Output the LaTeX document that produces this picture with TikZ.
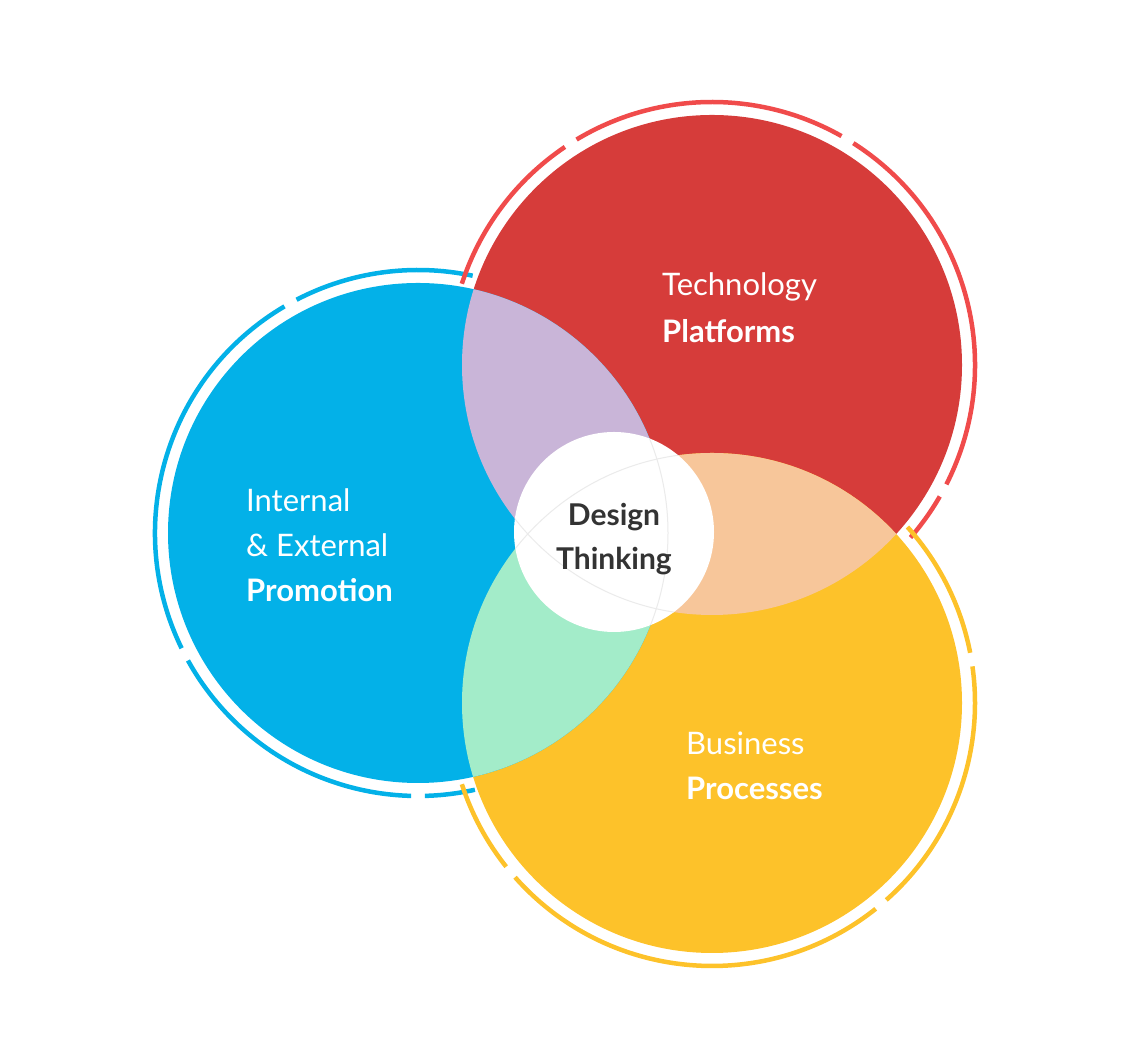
\documentclass[tikz,border=0pt]{standalone}
\usepackage{fontspec}
\setmainfont{Lato}
\definecolor{cblue}{HTML}{03B1E8}
\definecolor{cred}{HTML}{D63C3A}
\definecolor{rred}{HTML}{F04B4B}
\definecolor{cyel}{HTML}{FDC22A}
\definecolor{clav}{HTML}{C9B5D8}
\definecolor{cmint}{HTML}{A3ECC9}
\definecolor{cpeach}{HTML}{F7C69A}
\definecolor{cdark}{HTML}{333333}
\begin{document}
\begin{tikzpicture}[x=1pt,y=1pt,
  ring/.style={line width=4.5pt},
  lbl/.style={anchor=west,text=white,font=\fontsize{31}{36}\selectfont,align=left,inner sep=0pt},
  ctr/.style={text=cdark,font=\fontsize{30}{36}\selectfont\bfseries,align=center,inner sep=0pt}]
\useasboundingbox (0,0) rectangle (1125,1059);
\coordinate (B) at (418,526);
\coordinate (R) at (712,694);
\coordinate (Y) at (712,356);
\coordinate (W) at (614,527);
\fill[cred] (R) circle (250);
\fill[cyel] (Y) circle (250);
\fill[cblue] (B) circle (250);
\begin{scope}\clip (B) circle (250); \fill[clav] (R) circle (250);\end{scope}
\begin{scope}\clip (B) circle (250); \fill[cmint] (Y) circle (250);\end{scope}
\begin{scope}\clip (R) circle (250); \fill[cpeach] (Y) circle (250);\end{scope}
\fill[white] (W) circle (100);
\begin{scope}\clip (W) circle (100);
\draw[black!8,line width=1pt] (B) circle (250) (R) circle (250) (Y) circle (250);
\end{scope}
% rings
\foreach \a/\b in {78/117.5,120.5/206,209/268.5,271.5/282.5}
  \draw[ring,cblue] (B) ++(\a:263) arc (\a:\b:263);
\foreach \a/\b in {162/124,121/60.5,57.5/-27,-30/-41}
  \draw[ring,rred] (R) ++(\a:263) arc (\a:\b:263);
\foreach \a/\b in {42/11,8/-48.5,-51.5/-138.5,-141.5/-162}
  \draw[ring,cyel] (Y) ++(\a:263) arc (\a:\b:263);
\node[lbl] (t1) at (662,772) {Technology};
\node[lbl,font=\fontsize{31}{36}\selectfont\bfseries] (t2) at (662,728) {Platforms};
\node[lbl] (b1) at (246,559) {Internal};
\node[lbl] (b2) at (246,514) {\& External};
\node[lbl,font=\fontsize{31}{36}\selectfont\bfseries] (b3) at (246,469) {Promotion};
\node[lbl] (y1) at (686,316) {Business};
\node[lbl,font=\fontsize{31}{36}\selectfont\bfseries] (y2) at (686,271) {Processes};
\node[ctr] (c1) at (614,542) {Design};
\node[ctr] (c2) at (614,498) {Thinking};
\end{tikzpicture}
\end{document}
